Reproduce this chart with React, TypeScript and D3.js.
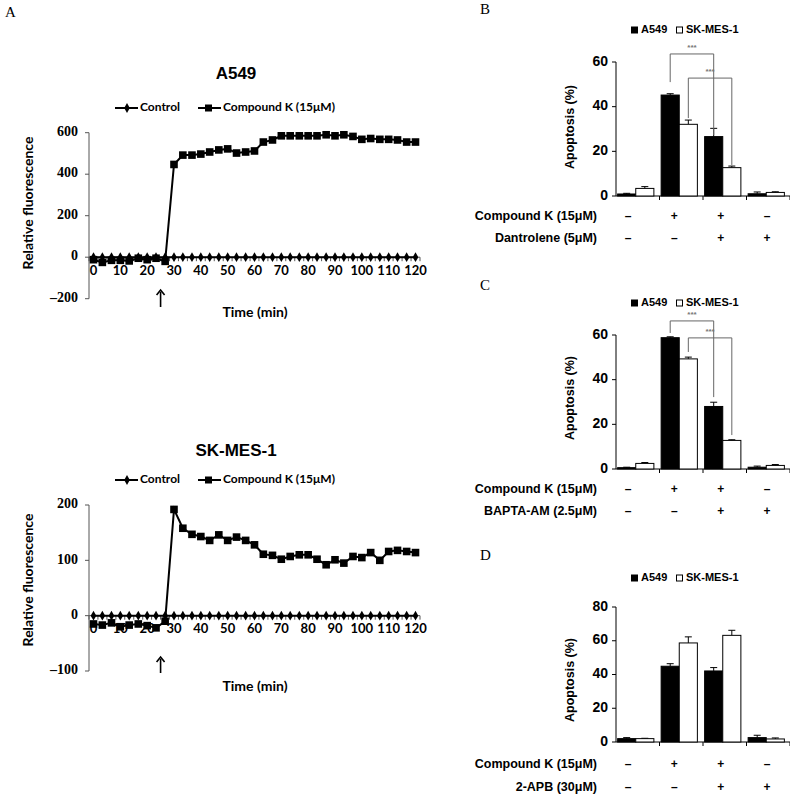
import React, { useEffect, useRef } from "react";
import * as d3 from "d3";

// ---------- Panel A data ----------
const timeMin = [0, 3.3, 6.7, 10, 13.3, 16.7, 20, 23.3, 26.7, 30, 33.3, 36.7, 40, 43.3, 46.7, 50, 53.3, 56.7, 60, 63.3, 66.7, 70, 73.3, 76.7, 80, 83.3, 86.7, 90, 93.3, 96.7, 100, 103.3, 106.7, 110, 113.3, 116.7, 120];
const a549Control = [0, 0, 0, 0, 0, 0, 0, 0, 0, 0, 0, 0, 0, 0, 0, 0, 0, 0, 0, 0, 0, 0, 0, 0, 0, 0, 0, 0, 0, 0, 0, 0, 0, 0, 0, 0, 0];
const a549CompoundK = [-12, -25, -15, -15, -18, -5, -12, -5, -20, 447, 492, 492, 497, 507, 517, 522, 502, 507, 512, 555, 565, 585, 585, 585, 585, 585, 590, 585, 590, 582, 568, 572, 568, 568, 565, 555, 555];
const skControl = [0, 0, 0, 0, 0, 0, 0, 0, 0, 0, 0, 0, 0, 0, 0, 0, 0, 0, 0, 0, 0, 0, 0, 0, 0, 0, 0, 0, 0, 0, 0, 0, 0, 0, 0, 0, 0];
const skCompoundK = [-15, -17, -13, -20, -17, -15, -18, -22, -10, 192, 158, 147, 143, 136, 146, 136, 142, 136, 128, 111, 109, 102, 107, 110, 110, 102, 92, 101, 95, 107, 105, 114, 100, 116, 118, 116, 114];
const timeTicks = [0, 10, 20, 30, 40, 50, 60, 70, 80, 90, 100, 110, 120];
const a549YTicks = [-200, 0, 200, 400, 600];
const skYTicks = [-100, 0, 100, 200];
const lineSeriesNames = ["Control", "Compound K (15μM)"];
const additionTime = 25;

// ---------- Panels B-D data ----------
const groups = ["g1", "g2", "g3", "g4"];
const cellLines = ["A549", "SK-MES-1"];
const signRow1 = ["–", "+", "+", "–"];
const signRow2 = ["–", "–", "+", "+"];

const bA549 = [0.9, 45.2, 26.6, 1.0];
const bA549Err = [0.3, 0.6, 3.7, 0.8];
const bSK = [3.4, 32.1, 12.7, 1.6];
const bSKErr = [0.8, 1.9, 0.7, 0.3];
const bYTicks = [0, 20, 40, 60];

const cA549 = [0.6, 58.8, 28.0, 0.8];
const cA549Err = [0.2, 0.4, 1.9, 0.5];
const cSK = [2.5, 49.3, 12.8, 1.6];
const cSKErr = [0.4, 0.8, 0.3, 0.4];
const cYTicks = [0, 20, 40, 60];

const dA549 = [2.0, 44.9, 42.1, 2.6];
const dA549Err = [0.6, 1.5, 2.0, 1.4];
const dSK = [2.0, 58.7, 63.2, 1.8];
const dSKErr = [0.2, 3.6, 3.0, 0.6];
const dYTicks = [0, 20, 40, 60, 80];

// significance brackets: [fromGroup, toGroup, cell, top, leftEnd, rightEnd]
const bBrackets: [number, number, number, number, number, number][] = [
  [1, 2, 0, 63.6, 51, 27.3],
  [1, 2, 1, 52.8, 34.9, 13.9],
];
const cBrackets: [number, number, number, number, number, number][] = [
  [1, 2, 0, 66.3, 60.9, 32.2],
  [1, 2, 1, 58.7, 52.4, 15.2],
];

const FONT_A = "Lato, 'Open Sans', sans-serif";
const FONT_ARIAL = "'Liberation Sans', Arial, sans-serif";
const FONT_SERIF = "'Liberation Serif', 'Times New Roman', serif";

type LineCfg = {
  title: string;
  control: number[];
  treated: number[];
  yDomain: [number, number];
  yRange: [number, number];
  yTicks: number[];
  titleY: number;
  legendY: number;
  labelCY: number;
  arrowY: [number, number];
  timeLabelY: number;
};

function drawLineChart(svg: any, cfg: LineCfg) {
  const x = d3.scaleLinear().domain([0, 120]).range([93.5, 415.5]);
  const y = d3.scaleLinear().domain(cfg.yDomain).range(cfg.yRange);
  const g = svg.append("g");
  const axisX = 89;
  const axisEnd = 420;
  const y0 = y(0);

  // title
  g.append("text").attr("x", 236).attr("y", cfg.titleY).attr("text-anchor", "middle")
    .attr("dominant-baseline", "middle").attr("font-family", FONT_ARIAL).attr("font-weight", "bold")
    .attr("font-size", 17).text(cfg.title);

  // legend
  const lg = g.append("g");
  const ly = cfg.legendY;
  lg.append("line").attr("x1", 115).attr("x2", 138).attr("y1", ly).attr("y2", ly).attr("stroke", "#000").attr("stroke-width", 2);
  lg.append("path").attr("d", d3.symbol(d3.symbolDiamond, 28)()).attr("transform", `translate(127,${ly})`).attr("fill", "#000");
  lg.append("text").attr("x", 140).attr("y", ly).attr("dominant-baseline", "middle").attr("font-family", FONT_A)
    .attr("font-weight", "bold").attr("font-size", 12).text(lineSeriesNames[0]);
  lg.append("line").attr("x1", 198).attr("x2", 221).attr("y1", ly).attr("y2", ly).attr("stroke", "#000").attr("stroke-width", 2);
  lg.append("rect").attr("x", 205).attr("y", ly - 3.5).attr("width", 7).attr("height", 7).attr("fill", "#000");
  lg.append("text").attr("x", 223).attr("y", ly).attr("dominant-baseline", "middle").attr("font-family", FONT_A)
    .attr("font-weight", "bold").attr("font-size", 12).text(lineSeriesNames[1]);

  // y axis
  g.append("line").attr("x1", axisX).attr("x2", axisX).attr("y1", y(cfg.yDomain[1])).attr("y2", y(cfg.yDomain[0]))
    .attr("stroke", "#555").attr("stroke-width", 1);
  cfg.yTicks.forEach((t) => {
    g.append("line").attr("x1", axisX - 4).attr("x2", axisX).attr("y1", y(t)).attr("y2", y(t)).attr("stroke", "#555");
    g.append("text").attr("x", axisX - 11).attr("y", y(t)).attr("text-anchor", "end").attr("dominant-baseline", "middle")
      .attr("font-family", FONT_SERIF).attr("font-weight", "bold").attr("font-size", 14)
      .text(t < 0 ? "–" + Math.abs(t) : String(t));
  });

  // y label
  g.append("text").attr("transform", `translate(29,${cfg.labelCY}) rotate(-90)`).attr("text-anchor", "middle")
    .attr("dominant-baseline", "middle").attr("font-family", FONT_A).attr("font-weight", "bold").attr("font-size", 14)
    .text("Relative fluorescence");

  // x axis at zero
  g.append("line").attr("x1", axisX).attr("x2", axisEnd).attr("y1", y0).attr("y2", y0).attr("stroke", "#555");
  const tickPos: number[] = [axisX];
  for (let i = 0; i < timeMin.length - 1; i++) tickPos.push((x(timeMin[i]) + x(timeMin[i + 1])) / 2);
  tickPos.push(axisEnd);
  tickPos.forEach((p) => {
    g.append("line").attr("x1", p).attr("x2", p).attr("y1", y0).attr("y2", y0 + 4).attr("stroke", "#555");
  });
  timeTicks.forEach((t) => {
    g.append("text").attr("x", x(t)).attr("y", y0 + 14).attr("text-anchor", "middle").attr("dominant-baseline", "middle")
      .attr("font-family", FONT_A).attr("font-weight", "bold").attr("font-size", 13).text(String(t));
  });

  // control series
  const line = d3.line<number>().x((_, i) => x(timeMin[i])).y((d) => y(d));
  g.append("path").attr("d", line(cfg.control)).attr("fill", "none").attr("stroke", "#000").attr("stroke-width", 2);
  cfg.control.forEach((v, i) => {
    g.append("path").attr("d", d3.symbol(d3.symbolDiamond, 28)()).attr("transform", `translate(${x(timeMin[i])},${y(v)})`).attr("fill", "#000");
  });
  // treated series
  g.append("path").attr("d", line(cfg.treated)).attr("fill", "none").attr("stroke", "#000").attr("stroke-width", 2);
  cfg.treated.forEach((v, i) => {
    g.append("rect").attr("x", x(timeMin[i]) - 3.8).attr("y", y(v) - 3.8).attr("width", 7.6).attr("height", 7.6).attr("fill", "#000");
  });

  // arrow
  const ax = x(additionTime);
  g.append("line").attr("x1", ax).attr("x2", ax).attr("y1", cfg.arrowY[0] + 2).attr("y2", cfg.arrowY[1]).attr("stroke", "#000").attr("stroke-width", 1.6);
  g.append("path").attr("d", `M${ax - 4},${cfg.arrowY[0] + 5} L${ax},${cfg.arrowY[0]} L${ax + 4},${cfg.arrowY[0] + 5}`)
    .attr("fill", "none").attr("stroke", "#000").attr("stroke-width", 1.6);

  // x label
  g.append("text").attr("x", 255).attr("y", cfg.timeLabelY).attr("text-anchor", "middle").attr("dominant-baseline", "middle")
    .attr("font-family", FONT_A).attr("font-weight", "bold").attr("font-size", 14).text("Time (min)");
}

type BarCfg = {
  letter: string;
  letterY: number;
  legendY: number;
  y0: number;
  yTop: number;
  yMax: number;
  yTicks: number[];
  a549: number[];
  a549Err: number[];
  sk: number[];
  skErr: number[];
  brackets: [number, number, number, number, number, number][];
  rowLabels: [string, string];
  rowY: [number, number];
  labelCY: number;
};

function drawBarChart(svg: any, cfg: BarCfg) {
  const g = svg.append("g");
  const axisX = 616;
  const axisEnd = 790;
  const y = d3.scaleLinear().domain([0, cfg.yMax]).range([cfg.y0, cfg.yTop]);
  const x0 = d3.scaleBand().domain(groups).range([axisX - 2, axisEnd - 2]).paddingInner(0).paddingOuter(0);
  const x1 = d3.scaleBand().domain(cellLines).range([0, x0.bandwidth()]).paddingInner(0).paddingOuter(0.2);
  const sx = d3.scalePoint().domain(groups).range([628, 767]);

  g.append("text").attr("x", 480).attr("y", cfg.letterY).attr("font-family", FONT_SERIF).attr("font-size", 15).text(cfg.letter);

  // legend
  const ly = cfg.legendY;
  g.append("rect").attr("x", 631).attr("y", ly - 3.5).attr("width", 7).attr("height", 7).attr("fill", "#000");
  g.append("text").attr("x", 641).attr("y", ly).attr("dominant-baseline", "middle").attr("font-family", FONT_ARIAL)
    .attr("font-weight", "bold").attr("font-size", 11).text(cellLines[0]);
  g.append("rect").attr("x", 676.5).attr("y", ly - 3).attr("width", 6).attr("height", 6).attr("fill", "#fff").attr("stroke", "#000").attr("stroke-width", 1);
  g.append("text").attr("x", 686).attr("y", ly).attr("dominant-baseline", "middle").attr("font-family", FONT_ARIAL)
    .attr("font-weight", "bold").attr("font-size", 11).text(cellLines[1]);

  // y axis
  g.append("line").attr("x1", axisX).attr("x2", axisX).attr("y1", y(0)).attr("y2", y(cfg.yMax)).attr("stroke", "#000");
  cfg.yTicks.forEach((t) => {
    g.append("line").attr("x1", axisX - 4).attr("x2", axisX).attr("y1", y(t)).attr("y2", y(t)).attr("stroke", "#000");
    g.append("text").attr("x", axisX - 8).attr("y", y(t)).attr("text-anchor", "end").attr("dominant-baseline", "middle")
      .attr("font-family", FONT_ARIAL).attr("font-weight", "bold").attr("font-size", 14).text(String(t));
  });
  g.append("text").attr("transform", `translate(571,${cfg.labelCY}) rotate(-90)`).attr("text-anchor", "middle")
    .attr("dominant-baseline", "middle").attr("font-family", FONT_ARIAL).attr("font-weight", "bold").attr("font-size", 12.5)
    .text("Apoptosis (%)");

  // x axis
  g.append("line").attr("x1", axisX).attr("x2", axisEnd).attr("y1", y(0)).attr("y2", y(0)).attr("stroke", "#000");
  groups.forEach((gr, i) => {
    const p = axisX + (i + 1) * ((axisEnd - axisX) / groups.length);
    g.append("line").attr("x1", p).attr("x2", p).attr("y1", y(0)).attr("y2", y(0) + 4).attr("stroke", "#000");
  });

  // bars
  const series = [
    { vals: cfg.a549, errs: cfg.a549Err, fill: "#000", key: cellLines[0] },
    { vals: cfg.sk, errs: cfg.skErr, fill: "#fff", key: cellLines[1] },
  ];
  series.forEach((s) => {
    s.vals.forEach((v, i) => {
      const bx = (x0(groups[i]) as number) + (x1(s.key) as number);
      const bw = x1.bandwidth();
      const cx = bx + bw / 2;
      // error bar (upward)
      g.append("line").attr("x1", cx).attr("x2", cx).attr("y1", y(v)).attr("y2", y(v + s.errs[i])).attr("stroke", "#000");
      g.append("line").attr("x1", cx - 3.5).attr("x2", cx + 3.5).attr("y1", y(v + s.errs[i])).attr("y2", y(v + s.errs[i])).attr("stroke", "#000");
      g.append("rect").attr("x", bx).attr("y", y(v)).attr("width", bw).attr("height", y(0) - y(v))
        .attr("fill", s.fill).attr("stroke", "#000").attr("stroke-width", 1);
    });
  });

  // significance brackets
  cfg.brackets.forEach(([ga, gb, cell, top, le, re]) => {
    const xa = (x0(groups[ga]) as number) + (x1(cellLines[cell]) as number) + x1.bandwidth() / 2;
    const xb = (x0(groups[gb]) as number) + (x1(cellLines[cell]) as number) + x1.bandwidth() / 2;
    g.append("path").attr("d", `M${xa},${y(le)} L${xa},${y(top)} L${xb},${y(top)} L${xb},${y(re)}`)
      .attr("fill", "none").attr("stroke", "#666").attr("stroke-width", 1);
    g.append("text").attr("x", (xa + xb) / 2).attr("y", y(top) - 6).attr("text-anchor", "middle")
      .attr("dominant-baseline", "middle").attr("font-family", FONT_ARIAL).attr("font-weight", "bold")
      .attr("font-size", 8).attr("fill", "#777").text("***");
  });

  // treatment rows
  [signRow1, signRow2].forEach((row, r) => {
    g.append("text").attr("x", 597).attr("y", cfg.rowY[r]).attr("text-anchor", "end").attr("dominant-baseline", "middle")
      .attr("font-family", FONT_ARIAL).attr("font-weight", "bold").attr("font-size", 12.5).text(cfg.rowLabels[r]);
    row.forEach((sgn, i) => {
      g.append("text").attr("x", sx(groups[i]) as number).attr("y", cfg.rowY[r]).attr("text-anchor", "middle")
        .attr("dominant-baseline", "middle").attr("font-family", FONT_ARIAL).attr("font-weight", "bold")
        .attr("font-size", 12).text(sgn);
    });
  });
}

export default function App() {
  const ref = useRef<SVGSVGElement | null>(null);
  useEffect(() => {
    const svg = d3.select(ref.current);
    svg.selectAll("*").remove();
    svg.append("rect").attr("width", 790).attr("height", 796).attr("fill", "#fff");
    svg.append("text").attr("x", 5).attr("y", 17).attr("font-family", FONT_SERIF).attr("font-size", 15).text("A");

    drawLineChart(svg, {
      title: "A549", control: a549Control, treated: a549CompoundK,
      yDomain: [-200, 600], yRange: [298.7, 132.7], yTicks: a549YTicks,
      titleY: 75, legendY: 108, labelCY: 203, arrowY: [290, 307], timeLabelY: 313,
    });
    drawLineChart(svg, {
      title: "SK-MES-1", control: skControl, treated: skCompoundK,
      yDomain: [-100, 200], yRange: [671, 505], yTicks: skYTicks,
      titleY: 452, legendY: 480, labelCY: 580, arrowY: [657, 673], timeLabelY: 687,
    });

    drawBarChart(svg, {
      letter: "B", letterY: 14, legendY: 30, y0: 196, yTop: 62, yMax: 60, yTicks: bYTicks,
      a549: bA549, a549Err: bA549Err, sk: bSK, skErr: bSKErr, brackets: bBrackets,
      rowLabels: ["Compound K (15μM)", "Dantrolene (5μM)"], rowY: [217, 239], labelCY: 127,
    });
    drawBarChart(svg, {
      letter: "C", letterY: 290, legendY: 303, y0: 469, yTop: 335, yMax: 60, yTicks: cYTicks,
      a549: cA549, a549Err: cA549Err, sk: cSK, skErr: cSKErr, brackets: cBrackets,
      rowLabels: ["Compound K (15μM)", "BAPTA-AM (2.5μM)"], rowY: [490, 512], labelCY: 398,
    });
    drawBarChart(svg, {
      letter: "D", letterY: 560, legendY: 578, y0: 742, yTop: 607, yMax: 80, yTicks: dYTicks,
      a549: dA549, a549Err: dA549Err, sk: dSK, skErr: dSKErr, brackets: [],
      rowLabels: ["Compound K (15μM)", "2-APB (30μM)"], rowY: [765, 788], labelCY: 680,
    });
  }, []);
  return (
    <svg ref={ref} width={790} height={796} style={{ position: "absolute", left: 0, top: 0, display: "block" }} />
  );
}
